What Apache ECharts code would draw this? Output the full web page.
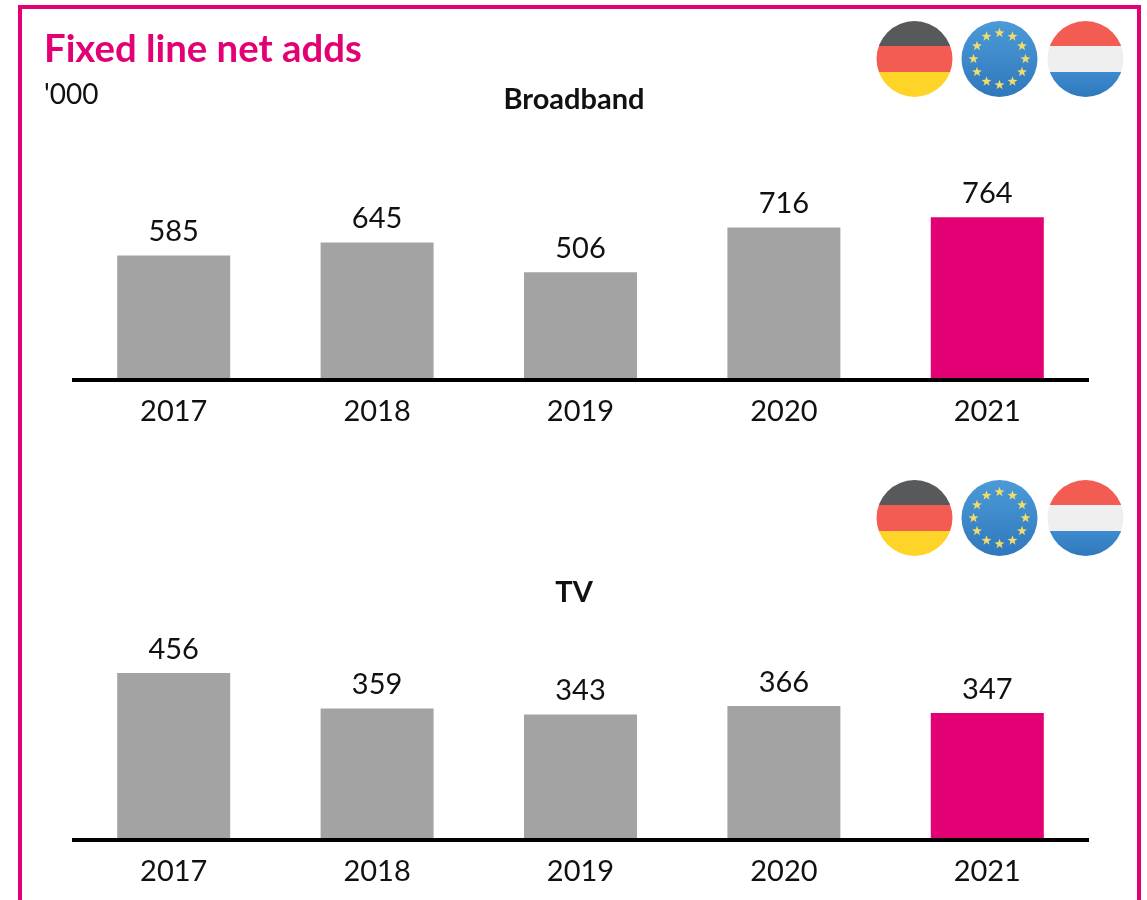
<!DOCTYPE html>
<html><head><meta charset="utf-8">
<style>html,body{margin:0;padding:0;background:#fff}#c{width:1147px;height:900px}</style>
<script src="https://cdn.jsdelivr.net/npm/echarts@6/dist/echarts.min.js"></script>
</head><body><div id="c"></div>
<script>
const years = ['2017','2018','2019','2020','2021'];
const broadband = [585,645,506,716,764];
const tv = [456,359,343,366,347];
const GREY = '#A3A3A3', MAGENTA = '#E20074', FONT = 'Lato';

function colored(vals){
  return vals.map((v,i)=>({value:v,itemStyle:{color:i===vals.length-1?MAGENTA:GREY}}));
}
function bands(stops){
  const cs=[];
  stops.forEach(s=>{cs.push({offset:s[0],color:s[2]});cs.push({offset:s[1],color:s[3]||s[2]});});
  return {type:'linear',x:0,y:0,x2:0,y2:1,colorStops:cs};
}
function circle(cx,cy,fill){
  return {type:'circle',silent:true,shape:{cx,cy,r:38},style:{fill}};
}
function star(cx,cy){
  const pts=[];
  for(let i=0;i<10;i++){
    const r=i%2?2.1:5.2,a=-Math.PI/2+i*Math.PI/5;
    pts.push([cx+r*Math.cos(a),cy+r*Math.sin(a)]);
  }
  return {type:'polygon',silent:true,z:3,shape:{points:pts},style:{fill:'#F2DC6B'}};
}
function flags(cy){
  const out=[];
  out.push(circle(914.5,cy,bands([[0,.335,'#58595B'],[.335,.67,'#F25C52'],[.67,1,'#FFD428']])));
  out.push(circle(999.5,cy,{type:'linear',x:0,y:0,x2:0,y2:1,colorStops:[{offset:0,color:'#4C9AD8'},{offset:1,color:'#2F78BC'}]}));
  for(let i=0;i<12;i++){
    const a=i*Math.PI/6;
    out.push(star(999.5+26*Math.sin(a),cy-26*Math.cos(a)));
  }
  out.push(circle(1085.5,cy,bands([[0,.335,'#F25C52'],[.335,.67,'#EFEFEF'],[.67,1,'#3F8BCF','#2F78BC']])));
  return out;
}
function xAxis(i){
  return {type:'category',gridIndex:i,data:years,z:5,
    axisLine:{show:true,lineStyle:{color:'#000',width:4,cap:'butt'}},axisTick:{show:false},
    axisLabel:{color:'#111',fontFamily:FONT,fontSize:29,margin:17}};
}
function yAxis(i,max){
  return {type:'value',gridIndex:i,min:0,max,show:false,splitLine:{show:false}};
}
function bars(i,vals){
  return {type:'bar',xAxisIndex:i,yAxisIndex:i,data:colored(vals),barWidth:113,animation:false,
    label:{show:true,position:'top',distance:9,color:'#111',fontFamily:FONT,fontSize:29}};
}
const chart = echarts.init(document.getElementById('c'),null,{renderer:'canvas'});
chart.setOption({
  animation:false,
  backgroundColor:'#fff',
  title:[
    {text:'Fixed line net adds',left:39,top:26,textStyle:{color:MAGENTA,fontFamily:FONT,fontSize:38.3,fontWeight:'bold'}},
    {text:"'000",left:39,top:76,textStyle:{color:'#111',fontFamily:FONT,fontSize:28,fontWeight:'normal'}},
    {text:'Broadband',left:569,textAlign:'center',top:80,textStyle:{color:'#111',fontFamily:FONT,fontSize:29,fontWeight:'bold'}},
    {text:'TV',left:569,textAlign:'center',top:573,textStyle:{color:'#111',fontFamily:FONT,fontSize:29,fontWeight:'bold'}}
  ],
  grid:[
    {left:72,width:1017,top:167,height:213},
    {left:72,width:1017,top:657,height:183}
  ],
  xAxis:[xAxis(0),xAxis(1)],
  yAxis:[yAxis(0,1000),yAxis(1,500)],
  series:[bars(0,broadband),bars(1,tv)],
  graphic:[
    {type:'rect',silent:true,shape:{x:20,y:7,width:1119,height:920},style:{fill:'none',stroke:MAGENTA,lineWidth:4}},
    ...flags(59),...flags(518)
  ]
});
</script></body></html>
